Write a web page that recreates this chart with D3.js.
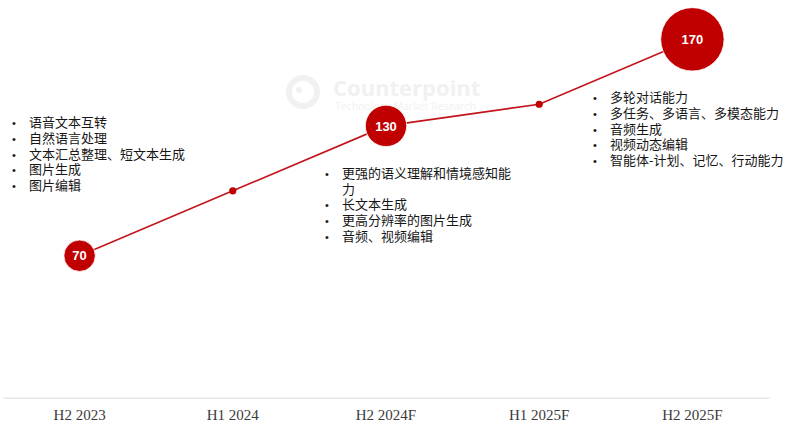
<!DOCTYPE html>
<html>
<head>
<meta charset="utf-8">
<script src="https://cdn.jsdelivr.net/npm/d3@7"></script>
<style>
  html, body { margin: 0; padding: 0; background: #ffffff; }
  svg { display: block; }
</style>
</head>
<body>
<svg id="chart" width="787" height="426"></svg>
<script>
// Half-year periods on the x axis
const categories = ["H2 2023", "H1 2024", "H2 2024F", "H1 2025F", "H2 2025F"];
// Capability index for each period
const values = [70, 100, 130, 140, 170];
// Periods that carry a labelled bubble (empty string = small dot only)
const bubbleLabels = ["70", "", "130", "", "170"];

// Capability notes attached to the labelled periods
const notesH2_2023 = ["语音文本互转", "自然语言处理", "文本汇总整理、短文本生成", "图片生成", "图片编辑"];
const notesH2_2024F = ["更强的语义理解和情境感知能力", "长文本生成", "更高分辨率的图片生成", "音频、视频编辑"];
const notesH2_2025F = ["多轮对话能力", "多任务、多语言、多模态能力", "音频生成", "视频动态编辑", "智能体-计划、记忆、行动能力"];

const W = 787, H = 426;
const RED = "#c00000";
const svg = d3.select("#chart");

// Scales
const x = d3.scaleBand().domain(categories).range([3, 769]).padding(0);
const cx = c => x(c) + x.bandwidth() / 2;
const y = d3.scaleLinear().domain([0, 180]).range([407.2, 17.7]);
// bubble radius grows with the value
const r = d3.scaleLinear().domain([70, 130, 170]).range([15.7, 20.7, 31.7]);

// Watermark
const wm = svg.append("g").attr("fill", "#f1f1f1");
wm.append("circle").attr("cx", 303).attr("cy", 92).attr("r", 14)
  .attr("fill", "none").attr("stroke", "#f1f1f1").attr("stroke-width", 6);
wm.append("circle").attr("cx", 299).attr("cy", 90).attr("r", 3);
wm.append("text").attr("x", 333).attr("y", 96)
  .attr("font-family", "'Open Sans', sans-serif").attr("font-weight", 700)
  .attr("font-size", 22).text("Counterpoint");
wm.append("text").attr("x", 335).attr("y", 110)
  .attr("font-family", "'Open Sans', sans-serif")
  .attr("font-size", 10.5).text("Technology Market Research");

// X axis
const axis = svg.append("g")
  .attr("transform", "translate(0,397.7)")
  .call(d3.axisBottom(x).tickSize(0).tickPadding(11.6));
axis.select(".domain").attr("stroke", "#e6e6e6").attr("stroke-width", 1.5);
axis.selectAll("text")
  .attr("font-family", "'Liberation Serif', serif")
  .attr("font-size", 15)
  .attr("fill", "#3a3a3a");

// Trend line
const pts = categories.map((c, i) => ({ c, v: values[i], label: bubbleLabels[i] }));
svg.append("path")
  .datum(pts)
  .attr("fill", "none")
  .attr("stroke", "#c3141c")
  .attr("stroke-width", 1.6)
  .attr("d", d3.line().x(d => cx(d.c)).y(d => y(d.v)));

// Small dots for intermediate periods
svg.selectAll("circle.dot")
  .data(pts.filter(d => !d.label))
  .join("circle")
  .attr("class", "dot")
  .attr("cx", d => cx(d.c))
  .attr("cy", d => y(d.v))
  .attr("r", 3.6)
  .attr("fill", RED);

// Labelled bubbles
const bub = svg.selectAll("g.bubble")
  .data(pts.filter(d => d.label))
  .join("g")
  .attr("class", "bubble")
  .attr("transform", d => `translate(${cx(d.c)},${y(d.v)})`);
bub.append("circle")
  .attr("r", d => r(d.v))
  .attr("fill", RED)
  .attr("stroke", "#ffffff")
  .attr("stroke-width", 0.8);
bub.append("text")
  .attr("text-anchor", "middle")
  .attr("dy", "0.36em")
  .attr("font-family", "'Liberation Sans', Arial, sans-serif")
  .attr("font-weight", 700)
  .attr("font-size", 13)
  .attr("fill", "#ffffff")
  .text(d => d.label);

// Bullet lists: one text element per list, one row of tspans per line
const noteFont = "'Noto Sans CJK SC', 'Noto Sans', sans-serif";
function bulletList(items, bulletX, firstY, maxWidth) {
  const lineH = 15.7;
  // wrap each item by character when it exceeds maxWidth
  const probe = svg.append("text").attr("font-family", noteFont).attr("font-size", 13);
  const rows = [];
  items.forEach(item => {
    let line = "";
    let first = true;
    Array.from(item).forEach(ch => {
      probe.text(line + ch);
      if (probe.node().getComputedTextLength() > maxWidth && line) {
        rows.push({ text: line, bullet: first });
        first = false;
        line = ch;
      } else {
        line += ch;
      }
    });
    rows.push({ text: line, bullet: first });
  });
  probe.remove();

  const t = svg.append("text")
    .attr("font-family", noteFont)
    .attr("font-size", 13)
    .attr("fill", "#161616");
  rows.forEach((row, i) => {
    const yy = firstY + i * lineH + 4.6;
    if (row.bullet) {
      t.append("tspan")
        .attr("x", bulletX - 3).attr("y", yy)
        .attr("font-family", "'Liberation Sans', sans-serif")
        .attr("font-size", 11)
        .text("•");
    }
    t.append("tspan")
      .attr("x", bulletX + 14).attr("y", yy)
      .text(row.text);
  });
}

bulletList(notesH2_2023, 15, 122.7, 200);
bulletList(notesH2_2024F, 328, 173.3, 172);
bulletList(notesH2_2025F, 596, 97.7, 200);
</script>
</body>
</html>
